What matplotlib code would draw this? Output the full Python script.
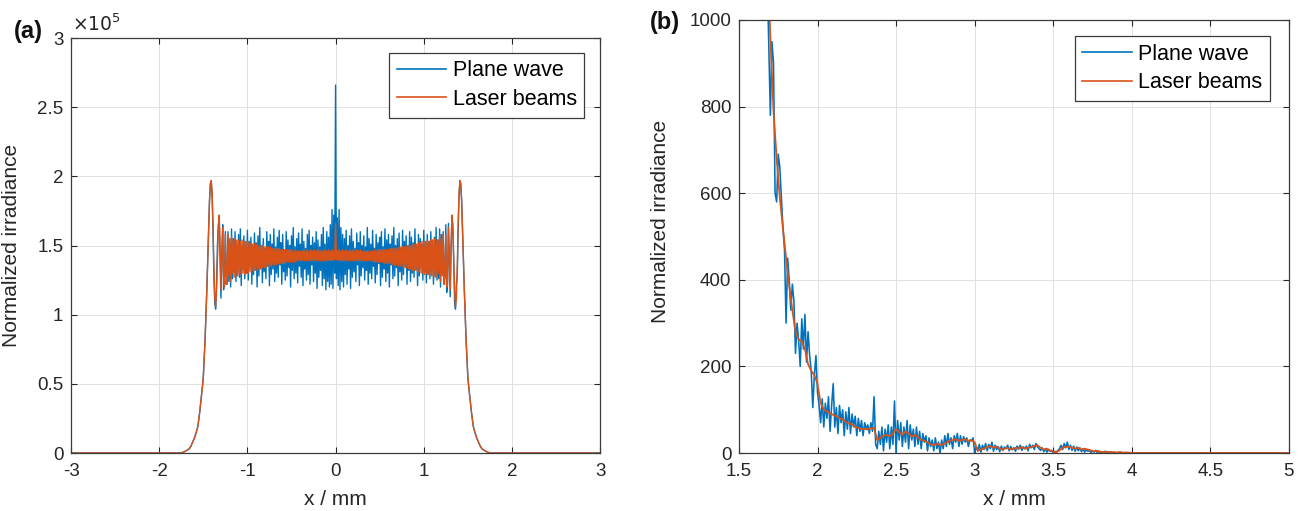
import numpy as np
import matplotlib
matplotlib.use("Agg")
import matplotlib.pyplot as plt
from matplotlib.ticker import FuncFormatter

plt.rcParams["font.family"] = ["Liberation Sans", "DejaVu Sans"]

BLUE = "#0072BD"
ORANGE = "#D95319"
INK = "#262626"

# ---------------------------------------------------------------------------
# (a) full profile, samples every 0.01 mm from -1.76 mm, irradiance in 1e3
# ---------------------------------------------------------------------------
A_X0, A_DX = -1.76, 0.01
A_XLIM = (-3, 3)
A_YLIM = (0, 3)

PLANE_A = [
    # -1.76 .. -1.42  rising edge
    0, 0.1, 0.3, 0.5, 0.8, 1.1, 1.5, 1.8, 2.2, 2.6,
    3, 4, 5, 6.5, 8, 9.5, 11, 13, 15, 17,
    20, 25, 30, 36, 42, 48, 55, 68, 82, 100,
    118, 140, 160, 182, 194,
    # -1.41 .. -1.17
    196, 186, 160, 128, 108, 104, 122, 150, 165, 170,
    140, 112, 145, 165, 118, 128, 160, 122, 130, 160,
    124, 152, 120, 162, 126,
    # -1.16 .. -0.01
    155, 131, 160, 124, 149, 135, 158, 127, 162, 121, 150, 133, 157, 126, 147, 130,
    161, 125, 153, 136, 156, 122, 149, 129, 159, 132, 152, 120, 157, 128, 163, 134,
    150, 123, 155, 131, 148, 126, 160, 135, 153, 121, 158, 129, 151, 133, 162, 124,
    149, 130, 156, 127, 161, 136, 152, 122, 158, 131, 147, 125, 160, 128, 154, 134,
    150, 120, 157, 132, 163, 126, 149, 130, 155, 123, 159, 135, 151, 127, 162, 121,
    153, 133, 148, 125, 158, 129, 161, 122, 150, 136, 156, 124, 152, 130, 160, 119,
    154, 127, 149, 132, 158, 121, 163, 126, 151, 118, 160, 124, 156, 120, 165, 122,
    176, 119, 172, 130,
    # 0.00
    266,
    # 0.01 .. 1.16
    126, 170, 121, 176,
    118, 163, 124, 158, 120, 155, 129, 161, 122, 150, 133, 157, 119, 162, 127, 153,
    131, 148, 124, 159, 136, 152, 121, 160, 128, 150, 134, 157, 125, 149, 132, 163,
    122, 155, 130, 151, 126, 161, 135, 148, 123, 158, 129, 152, 137, 156, 121, 160,
    127, 149, 133, 162, 124, 154, 130, 158, 120, 151, 136, 157, 126, 163, 128, 150,
    134, 155, 121, 159, 131, 148, 125, 161, 129, 153, 135, 157, 122, 150, 132, 160,
    124, 156, 130, 152, 127, 162, 133, 149, 121, 158, 128, 155, 136, 151, 125, 161,
    131, 147, 123, 158, 129, 153, 126, 160, 134, 150, 122, 156, 128, 163, 125, 154,
    # 1.17 .. 1.41
    126, 162, 120, 158, 130, 160, 122, 128, 165, 116,
    122, 166, 140, 113, 148, 170, 165, 140, 108, 104,
    122, 128, 160, 186, 196,
    # 1.42 .. 1.76  falling edge
    194, 182, 160, 140, 118, 100, 82, 68, 55, 48,
    42, 36, 30, 25, 20, 17, 15, 13, 11, 9.5,
    8, 6.5, 5, 4, 3, 2.6, 2.2, 1.8, 1.5, 1.1,
    0.8, 0.5, 0.3, 0.1, 0,
]

LASER_A = [
    # -1.76 .. -1.42  rising edge
    0, 0.1, 0.3, 0.5, 0.8, 1.1, 1.5, 1.8, 2.2, 2.6,
    3, 4, 5, 6.5, 8, 9.5, 11, 13, 15, 17,
    20, 25, 30, 36, 42, 48, 55, 68, 82, 100,
    118, 140, 160, 182, 195,
    # -1.41 .. -1.17
    197, 188, 165, 135, 112, 106, 118, 140, 160, 172,
    150, 118, 140, 163, 125, 120, 158, 130, 122, 158,
    128, 155, 124, 157, 130,
    # -1.16 .. -0.01
    154, 127, 155, 128, 154, 128, 154, 129, 153, 129, 154, 130, 153, 129, 153, 130,
    153, 130, 152, 131, 152, 131, 151, 132, 151, 132, 151, 132, 150, 133, 150, 133,
    150, 134, 150, 134, 149, 134, 149, 135, 149, 135, 149, 135, 148, 136, 148, 136,
    148, 136, 148, 137, 148, 137, 147, 137, 147, 137, 147, 137, 147, 138, 147, 138,
    147, 138, 147, 138, 146, 138, 147, 138, 146, 139, 146, 139, 146, 139, 146, 139,
    147, 139, 146, 139, 147, 139, 146, 139, 147, 139, 146, 139, 147, 139, 146, 139,
    147, 139, 146, 139, 147, 139, 146, 139, 147, 139, 146, 139, 147, 139, 146, 139,
    147, 139, 146, 140,
    # 0.00
    166,
    # 0.01 .. 1.16
    140, 146, 139, 147,
    139, 146, 139, 147, 139, 146, 139, 147, 139, 146, 139, 147, 139, 146, 139, 147,
    139, 146, 139, 147, 139, 146, 139, 147, 139, 146, 139, 146, 139, 146, 139, 146,
    139, 146, 139, 146, 139, 146, 138, 147, 138, 146, 138, 147, 138, 147, 138, 147,
    138, 147, 137, 147, 137, 147, 137, 147, 137, 148, 137, 148, 136, 148, 136, 148,
    136, 148, 135, 149, 135, 149, 135, 149, 134, 149, 134, 150, 134, 150, 133, 150,
    133, 150, 132, 151, 132, 151, 132, 151, 131, 152, 131, 152, 130, 153, 130, 153,
    129, 153, 130, 154, 129, 153, 129, 154, 128, 154, 128, 155, 127, 154, 127, 154,
    # 1.17 .. 1.41
    130, 157, 124, 155, 128, 158, 122, 130, 158, 120,
    125, 163, 140, 118, 150, 172, 160, 140, 118, 106,
    112, 135, 165, 188, 197,
    # 1.42 .. 1.76  falling edge
    195, 182, 160, 140, 118, 100, 82, 68, 55, 48,
    42, 36, 30, 25, 20, 17, 15, 13, 11, 9.5,
    8, 6.5, 5, 4, 3, 2.6, 2.2, 1.8, 1.5, 1.1,
    0.8, 0.5, 0.3, 0.1, 0,
]

# ---------------------------------------------------------------------------
# (b) zoom on the right tail, from 1.68 mm to 4 mm, then zero up to 5 mm
# ---------------------------------------------------------------------------
B_X0 = 1.68
B_DX_PLANE, B_DX_LASER = 0.01, 0.02
B_XEND = 5.0
B_XLIM = (1.5, 5)
B_YLIM = (0, 1000)

PLANE_B = [
    1100, 940, 780, 950, 900, 600, 580, 690, 660, 590,   # 1.68
    520, 470, 300, 450, 400, 330, 390, 350, 230, 300,    # 1.78
    260, 200, 310, 240, 320, 210, 280, 225, 190, 105,    # 1.88
    180, 225, 140, 110, 70, 125, 60, 115, 80, 130,       # 1.98
    50, 110, 160, 60, 105, 45, 110, 70, 100, 40,         # 2.08
    95, 55, 105, 45, 90, 60, 85, 40, 80, 50,             # 2.18
    75, 40, 70, 55, 65, 45, 70, 50, 130, 20,             # 2.28
    10, 50, 20, 60, 5, 55, 25, 65, 10, 60,               # 2.38
    20, 120, 0, 75, 30, 70, 15, 60, 25, 75,              # 2.48
    10, 65, 30, 55, 15, 60, 20, 50, 10, 45,              # 2.58
    25, 40, 5, 35, 15, 30, 5, 35, 10, 25,                # 2.68
    0, 30, 10, 40, 15, 45, 20, 35, 10, 40,               # 2.78
    25, 45, 15, 40, 20, 38, 25, 35, 15, 30,              # 2.88
    28, 35, 0, 15, 5, 20, 2, 18, 8, 22,                  # 2.98
    5, 20, 10, 25, 4, 18, 8, 15, 3, 16,                  # 3.08
    6, 14, 10, 18, 5, 15, 8, 12, 4, 16,                  # 3.18
    9, 18, 6, 14, 10, 16, 5, 20, 12, 18,                 # 3.28
    8, 22, 14, 10, 6, 12, 3, 10, 2, 8,                   # 3.38
    4, 6, 0, 4, 2, 6, 10, 18, 8, 22,                     # 3.48
    12, 25, 8, 18, 6, 16, 4, 14, 5, 12,                  # 3.58
    3, 10, 2, 8, 4, 6, 1, 5, 2, 6,                       # 3.68
    1, 4, 0, 3, 1, 4, 0, 2, 1, 2,                        # 3.78
    0, 2, 0, 1, 0, 2, 0, 1, 0, 1,                        # 3.88
    0, 1, 0,                                             # 3.98
]

LASER_B = [
    1150, 960, 790, 680, 590, 520, 450, 385, 330, 280,
    262, 258, 240, 205, 190, 180, 160, 115, 100, 96,
    92, 88, 85, 80, 78, 72, 68, 66, 60, 58,
    55, 56, 54, 57, 58, 30, 35, 40, 42, 38,
    45, 55, 48, 42, 50, 45, 38, 42, 36, 30,
    28, 25, 20, 18, 22, 18, 20, 24, 28, 30,
    32, 28, 30, 32, 28, 30, 25, 5, 8, 10,
    14, 16, 12, 15, 10, 8, 12, 10, 8, 12,
    10, 14, 10, 12, 14, 16, 18, 12, 8, 10,
    6, 3, 2, 6, 12, 14, 15, 12, 10, 12,
    8, 10, 8, 6, 4, 5, 3, 2, 3, 2,
    2, 1, 2, 1, 1, 1, 0,
]

LABELS = ["Plane wave", "Laser beams"]


def series_a(vals):
    x = A_X0 + A_DX * np.arange(len(vals))
    x = np.r_[A_XLIM[0], x, A_XLIM[1]]
    y = np.r_[0, np.asarray(vals, float), 0] / 100.0  # 1e3 -> 1e5 units
    return x, y


def series_b(vals, dx):
    x = B_X0 + dx * np.arange(len(vals))
    return np.r_[x, B_XEND], np.r_[np.asarray(vals, float), 0]


def style_axes(ax):
    ax.grid(True, color="#e1e1e1", linewidth=0.7)
    ax.set_axisbelow(True)
    for s in ax.spines.values():
        s.set_color("#3a3a3a")
        s.set_linewidth(0.9)
    ax.tick_params(direction="in", top=True, right=True, length=4, width=0.8,
                   colors=INK, labelsize=13.5)
    ax.tick_params(axis="x", pad=7)
    ax.tick_params(axis="y", pad=5.5)
    ax.yaxis.set_major_formatter(FuncFormatter(lambda v, p: f"{v:g}"))
    ax.xaxis.set_major_formatter(FuncFormatter(lambda v, p: f"{v:g}"))
    ax.set_xlabel("x / mm", fontsize=15, color=INK, va="top")
    ax.set_ylabel("Normalized irradiance", fontsize=15, color=INK)


def add_legend(ax, anchor):
    leg = ax.legend(loc="upper right", bbox_to_anchor=anchor, borderaxespad=0,
                    fontsize=15.5, fancybox=False, edgecolor="#3a3a3a",
                    framealpha=1, handlelength=2.3, handletextpad=0.3,
                    labelspacing=0.35, borderpad=0.35)
    leg.get_frame().set_linewidth(0.9)
    for line in leg.get_lines():
        line.set_linewidth(1.2)


fig = plt.figure(figsize=(13.06, 5.11), dpi=100)
ax1 = fig.add_axes([0.0544, 0.1135, 0.4051, 0.8121])
ax2 = fig.add_axes([0.5658, 0.1135, 0.4211, 0.8474])

# ----- (a) -----
xb, yb = series_a(PLANE_A)
xo, yo = series_a(LASER_A)
ax1.plot(xb, yb, color=BLUE, lw=1.0, label=LABELS[0])
ax1.plot(xo, yo, color=ORANGE, lw=1.0, label=LABELS[1])
ax1.set_xlim(*A_XLIM)
ax1.set_ylim(*A_YLIM)
ax1.set_xticks(np.arange(-3, 4, 1))
ax1.set_yticks(np.arange(0, 3.01, 0.5))
style_axes(ax1)
ax1.xaxis.set_label_coords(0.5, -0.089)
ax1.yaxis.set_label_coords(-0.0945, 0.5)
ax1.text(0.002, 1.008, r"$\times10^5$", transform=ax1.transAxes,
         ha="left", va="bottom", fontsize=13.5, color=INK)
add_legend(ax1, (0.970, 0.964))
fig.text(28 / 1306, 1 - 31 / 511, "(a)", ha="center", va="center",
         fontsize=17, fontweight="bold", color="#111111")

# ----- (b) -----
xb, yb = series_b(PLANE_B, B_DX_PLANE)
xo, yo = series_b(LASER_B, B_DX_LASER)
ax2.plot(xb, yb, color=BLUE, lw=1.15, label=LABELS[0])
ax2.plot(xo, yo, color=ORANGE, lw=1.3, label=LABELS[1])
ax2.set_xlim(*B_XLIM)
ax2.set_ylim(*B_YLIM)
ax2.set_xticks(np.arange(1.5, 5.01, 0.5))
ax2.set_yticks(np.arange(0, 1001, 200))
style_axes(ax2)
ax2.xaxis.set_label_coords(0.5, -0.0855)
ax2.yaxis.set_label_coords(-0.1255, 0.535)
add_legend(ax2, (0.9655, 0.963))
fig.text(665 / 1306, 1 - 22 / 511, "(b)", ha="center", va="center",
         fontsize=17, fontweight="bold", color="#111111")

fig.savefig("out.png", dpi=100)
